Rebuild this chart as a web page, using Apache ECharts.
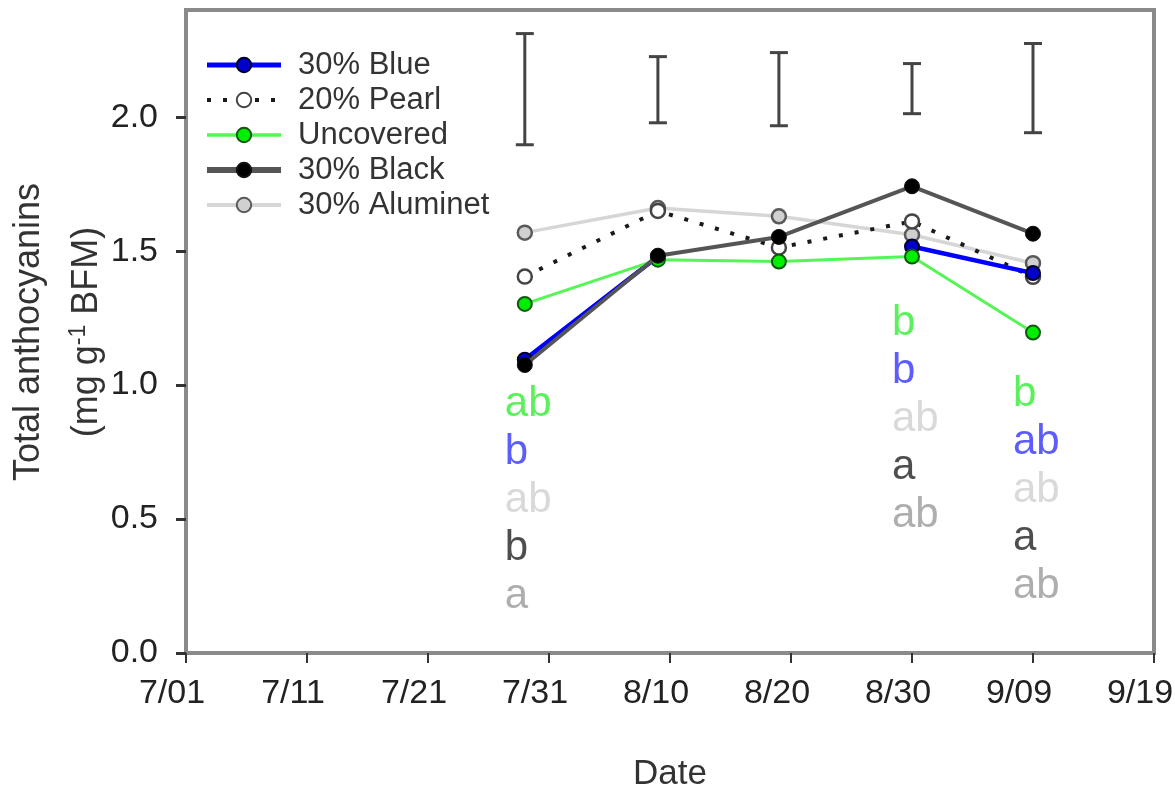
<!DOCTYPE html>
<html>
<head>
<meta charset="utf-8">
<script src="https://cdn.jsdelivr.net/npm/echarts@6/dist/echarts.min.js"></script>
<style>
html,body{margin:0;padding:0;background:#fff;}
#chart{width:1175px;height:789px;}
</style>
</head>
<body>
<div id="chart"></div>
<script>
// Days after 7/01
const days = [28, 39, 49, 60, 70];
const tickLabels = ['7/01','7/11','7/21','7/31','8/10','8/20','8/30','9/09','9/19'];
const yTicks = [0, 0.5, 1.0, 1.5, 2.0];

const blue30 = [1.095, 1.48, null, 1.517, 1.418];
const pearl20 = [1.405, 1.65, 1.513, 1.611, 1.404];
const uncovered = [1.303, 1.468, 1.461, 1.48, 1.196];
const black30 = [1.075, 1.483, 1.553, 1.742, 1.565];
const aluminet30 = [1.569, 1.661, 1.63, 1.561, 1.455];

// LSD-style bars
const errLow = [1.897, 1.979, 1.968, 2.013, 1.942];
const errHigh = [2.312, 2.226, 2.241, 2.200, 2.275];

// Mean separation letters
const annotDays = [28, 60, 70];
const annotY = [0.926, 1.232, 0.964];
const lettersUncovered = ['ab', 'b', 'b'];
const lettersBlue = ['b', 'b', 'ab'];
const lettersAluminet = ['ab', 'ab', 'ab'];
const lettersBlack = ['b', 'a', 'a'];
const lettersPearl = ['a', 'ab', 'ab'];

const FF = 'Liberation Sans, Arial, Helvetica, sans-serif';
const chart = echarts.init(document.getElementById('chart'));

function pts(arr) { return days.map((d, i) => [d, arr[i]]); }

const annotData = annotDays.map((d, i) => [d, annotY[i], i]);
const aFont = 42, aLH = 48;

const option = {
  animation: false,
  backgroundColor: '#fff',
  grid: { left: 186, right: 21, top: 10, bottom: 136, outerBoundsMode: 'none', containLabel: false,
    show: true, borderColor: '#8a8a8a', borderWidth: 4, backgroundColor: 'transparent' },
  legend: {
    data: [
      { name: '30% Blue', lineStyle: { width: 5 } },
      { name: '20% Pearl', lineStyle: { width: 4 } },
      { name: 'Uncovered', lineStyle: { width: 3.5 } },
      { name: '30% Black', lineStyle: { width: 6 } },
      { name: '30% Aluminet', lineStyle: { width: 4 } }
    ],
    orient: 'vertical', left: 199, top: 44,
    itemWidth: 74, itemHeight: 18, itemGap: 3,
    textStyle: { fontFamily: FF, fontSize: 31, color: '#333', lineHeight: 32, padding: [0, 0, 0, 12] }
  },
  xAxis: {
    type: 'value', min: 0, max: 80, interval: 10,
    name: 'Date', nameLocation: 'middle', nameGap: 104,
    nameTextStyle: { fontFamily: FF, fontSize: 35, color: '#333' },
    axisLine: { show: false },
    axisTick: { show: true, length: 10, lineStyle: { color: '#333', width: 2 } },
    axisLabel: { fontFamily: FF, fontSize: 34, color: '#222', margin: 24, padding: [0, 28, 0, 0],
      formatter: v => tickLabels[Math.round(v / 10)] },
    splitLine: { show: false }
  },
  yAxis: {
    type: 'value', min: 0, max: 2.4, interval: 0.5,
    axisLine: { show: false },
    axisTick: { show: true, length: 10, customValues: yTicks, lineStyle: { color: '#333', width: 3 } },
    axisLabel: { fontFamily: FF, fontSize: 34, color: '#222', margin: 28, customValues: yTicks,
      formatter: v => v.toFixed(1) },
    splitLine: { show: false }
  },
  graphic: [
    { type: 'text', x: 29, y: 332, rotation: Math.PI / 2,
      style: { text: 'Total anthocyanins', fontFamily: FF, fontSize: 36, fill: '#333', align: 'center', verticalAlign: 'middle' } },
    { type: 'text', x: 87, y: 332, rotation: Math.PI / 2,
      style: { text: '{n|(mg g}{s|-1}{n| BFM)}', align: 'center', verticalAlign: 'middle', fill: '#333',
        rich: { n: { fontFamily: FF, fontSize: 36, lineHeight: 40, fill: '#333', color: '#333' },
                s: { fontFamily: FF, fontSize: 23, lineHeight: 40, verticalAlign: 'top', fill: '#333', color: '#333' } } } }
  ],
  series: [
    {
      name: 'errbars', type: 'custom', z: 1,
      data: days.map((d, i) => [d, errLow[i], errHigh[i]]),
      encode: { x: 0, y: [1, 2] },
      renderItem: (params, api) => {
        const x = api.value(0);
        const a = api.coord([x, api.value(1)]);
        const b = api.coord([x, api.value(2)]);
        const w = 9;
        const st = { stroke: '#444', lineWidth: 3 };
        return { type: 'group', children: [
          { type: 'line', shape: { x1: a[0], y1: a[1], x2: b[0], y2: b[1] }, style: st },
          { type: 'line', shape: { x1: a[0] - w, y1: a[1], x2: a[0] + w, y2: a[1] }, style: st },
          { type: 'line', shape: { x1: b[0] - w, y1: b[1], x2: b[0] + w, y2: b[1] }, style: st }
        ] };
      }
    },
    {
      name: '30% Aluminet', type: 'line', z: 2, data: pts(aluminet30),
      symbol: 'circle', symbolSize: 14,
      lineStyle: { color: '#d6d6d6', width: 3.5 },
      itemStyle: { color: '#d0d0d0', borderColor: '#5a5a5a', borderWidth: 2.5 }
    },
    {
      name: '20% Pearl', type: 'line', z: 3, data: pts(pearl20),
      symbol: 'circle', symbolSize: 14,
      lineStyle: { color: '#1a1a1a', width: 4, type: [4, 12] },
      itemStyle: { color: '#ffffff', borderColor: '#444', borderWidth: 2.5 }
    },
    {
      name: '30% Blue', type: 'line', z: 4, data: pts(blue30), connectNulls: false,
      symbol: 'circle', symbolSize: 14,
      lineStyle: { color: '#0000ff', width: 4.5 },
      itemStyle: { color: '#0000cc', borderColor: '#000022', borderWidth: 2 }
    },
    {
      name: 'Uncovered', type: 'line', z: 5, data: pts(uncovered),
      symbol: 'circle', symbolSize: 14,
      lineStyle: { color: '#55f555', width: 3 },
      itemStyle: { color: '#00ee00', borderColor: '#115511', borderWidth: 2 }
    },
    {
      name: '30% Black', type: 'line', z: 6, data: pts(black30),
      symbol: 'circle', symbolSize: 15,
      lineStyle: { color: '#555555', width: 4 },
      itemStyle: { color: '#000000', borderColor: '#111', borderWidth: 1 }
    },
    {
      name: 'letters', type: 'scatter', z: 7, symbolSize: 0, silent: true,
      data: annotData,
      label: {
        show: true, position: [-20, -24], align: 'left', verticalAlign: 'top',
        formatter: p => {
          const i = p.data[2];
          return '{u|' + lettersUncovered[i] + '}\n{b|' + lettersBlue[i] + '}\n{l|' + lettersAluminet[i] +
                 '}\n{k|' + lettersBlack[i] + '}\n{p|' + lettersPearl[i] + '}';
        },
        rich: {
          u: { fontFamily: FF, fontSize: aFont, lineHeight: aLH, color: '#33ee33' },
          b: { fontFamily: FF, fontSize: aFont, lineHeight: aLH, color: '#3333ff' },
          l: { fontFamily: FF, fontSize: aFont, lineHeight: aLH, color: '#cfcfcf' },
          k: { fontFamily: FF, fontSize: aFont, lineHeight: aLH, color: '#222222' },
          p: { fontFamily: FF, fontSize: aFont, lineHeight: aLH, color: '#9a9a9a' }
        }
      }
    }
  ]
};
chart.setOption(option);
</script>
</body>
</html>
